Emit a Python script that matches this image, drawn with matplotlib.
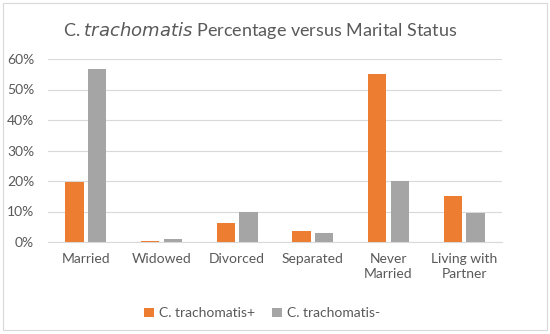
import numpy as np
import matplotlib.pyplot as plt
from matplotlib.patches import Rectangle
from matplotlib.ticker import PercentFormatter

categories = ["Married", "Widowed", "Divorced", "Separated", "Never\nMarried", "Living with\nPartner"]
ct_pos = [19.8, 0.4, 6.1, 3.6, 55.0, 15.2]
ct_neg = [56.6, 1.1, 9.9, 2.8, 20.0, 9.4]
series_labels = ["C. trachomatis+", "C. trachomatis-"]

plt.rcParams["font.family"] = ["Lato", "DejaVu Sans"]
text_col = "#595959"

fig = plt.figure(figsize=(5.5, 3.34), dpi=100, facecolor="white")
fig.patches.append(Rectangle((0.006, 0.012), 0.988, 0.978, transform=fig.transFigure,
                             fill=False, edgecolor="#D9D9D9", linewidth=0.8))
ax = fig.add_axes([48 / 550, 1 - 242 / 334, 454 / 550, 183 / 334])

x = np.arange(len(categories))
w = 0.24
ax.bar(x - 0.15, ct_pos, w, color="#ED7D31", label=series_labels[0], zorder=3)
ax.bar(x + 0.15, ct_neg, w, color="#A5A5A5", label=series_labels[1], zorder=3)

ax.set_xlim(-0.5, len(categories) - 0.5)
ax.set_ylim(0, 60)
ax.set_yticks(np.arange(0, 61, 10))
ax.yaxis.set_major_formatter(PercentFormatter(decimals=0))
ax.grid(axis="y", color="#D9D9D9", linewidth=0.8, zorder=0)
for s in ["top", "right", "left"]:
    ax.spines[s].set_visible(False)
ax.spines["bottom"].set_color("#D9D9D9")
ax.set_xticks(x)
ax.set_xticklabels(categories, fontsize=10, color=text_col, linespacing=1.3)
ax.tick_params(axis="x", length=0, pad=8)
ax.tick_params(axis="y", length=0, labelsize=10, labelcolor=text_col, pad=10)

fig.text(0.473, 0.908, "C. $\\it{trachomatis}$ Percentage versus Marital Status",
         ha="center", va="center", fontsize=13, color=text_col)
fig.legend(loc="center", bbox_to_anchor=(0.477, 0.062), ncol=2, frameon=False,
           fontsize=10, labelcolor=text_col, handlelength=0.7, handleheight=0.7,
           handletextpad=0.4, columnspacing=1.2)

fig.savefig("out.png", dpi=100, facecolor="white")
